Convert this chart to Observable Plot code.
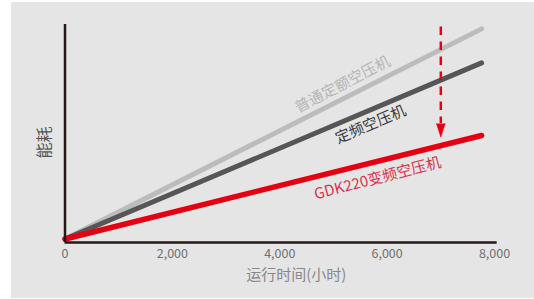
<!DOCTYPE html>
<html><head><meta charset="utf-8">
<script src="https://cdn.jsdelivr.net/npm/d3@7"></script>
<script src="https://cdn.jsdelivr.net/npm/@observablehq/plot@0.6"></script>
<style>
html,body{margin:0;padding:0;background:#fff;}
#chart{position:absolute;left:11px;top:2px;width:523px;height:296px;background:#e5e5e5;}
#chart svg{display:block;}
svg{font-family:"Noto Sans CJK SC","Noto Sans",sans-serif;}
</style></head>
<body><div id="chart"></div>
<script>
const hours = [0, 7760];
const normalFixed = [1.6, 98.0];   // 普通定额空压机
const fixedFreq = [1.6, 82.4];     // 定频空压机
const gdk220 = [1.6, 49.1];        // GDK220变频空压机
const xTicks = [0, 2000, 4000, 6000, 8000];
const seriesNames = ["普通定额空压机", "定频空压机", "GDK220变频空压机"];
const labelPos = [[5172, 72.5], [5693, 54.1], [5823, 29.4]];
const arrowX = 7000;
const arrowY = [99.1, 54.8, 48.3];

const colors = ["#bcbcbc", "#565656", "#e60012"];
const textColors = ["#b6b6b6", "#383838", "#d6334b"];
const angles = [-27.5, -23, -14.5];
const allSeries = [normalFixed, fixedFreq, gdk220];

const lineData = [];
allSeries.forEach((s, i) => s.forEach((v, j) => lineData.push({name: seriesNames[i], x: hours[j], y: v})));
const labels = seriesNames.map((n, i) => ({name: n, x: labelPos[i][0], y: labelPos[i][1], c: textColors[i], a: angles[i]}));

const plot = Plot.plot({
  width: 523, height: 296,
  marginLeft: 53.5, marginRight: 40, marginTop: 22, marginBottom: 56,
  style: {background: "transparent", overflow: "visible"},
  x: {domain: [0, 8000]},
  y: {domain: [0, 100]},
  marks: [
    Plot.axisX({ticks: xTicks, tickSize: 0, tickPadding: 6.3, tickFormat: d3.format(","), fontSize: 12.5, fill: "#707070", label: null}),
    Plot.axisY({ticks: [], label: null}),
    ...seriesNames.map((n, i) => Plot.line(lineData.filter(d => d.name === n), {x: "x", y: "y", stroke: colors[i], strokeWidth: i === 2 ? 5.5 : 5, strokeLinecap: "round"})),
    Plot.ruleX([0], {y1: 0, y2: 100, stroke: "#231815", strokeWidth: 2.5}),
    Plot.ruleY([0], {x1: 0, x2: 8050, stroke: "#231815", strokeWidth: 2.5}),
    Plot.link([{x: arrowX, y1: arrowY[0], y2: arrowY[1]}], {x1: "x", x2: "x", y1: "y1", y2: "y2", stroke: "#e60012", strokeWidth: 2.5, strokeDasharray: "8.5,6.5"}),
    Plot.vector([{x: arrowX, y: arrowY[2]}], {x: "x", y: "y", shape: "spike", length: 13.7, r: 4.4, rotate: 180, anchor: "end", fill: "#e60012", stroke: "#e60012", strokeWidth: 0.5}),
    Plot.text(labels, {x: "x", y: "y", text: "name", fill: "c", rotate: "a", fontSize: 15, textAnchor: "middle", lineAnchor: "middle"}),
    Plot.text(["能耗"], {frameAnchor: "left", dx: -20.5, dy: 9, rotate: -90, fontSize: 16, fill: "#555555", textAnchor: "middle", lineAnchor: "middle"}),
    Plot.text(["运行时间(小时)"], {frameAnchor: "bottom", dx: 16.5, dy: 33, fontSize: 15, fill: "#888888", textAnchor: "middle", lineAnchor: "middle"})
  ]
});
document.getElementById("chart").appendChild(plot);
</script></body></html>
